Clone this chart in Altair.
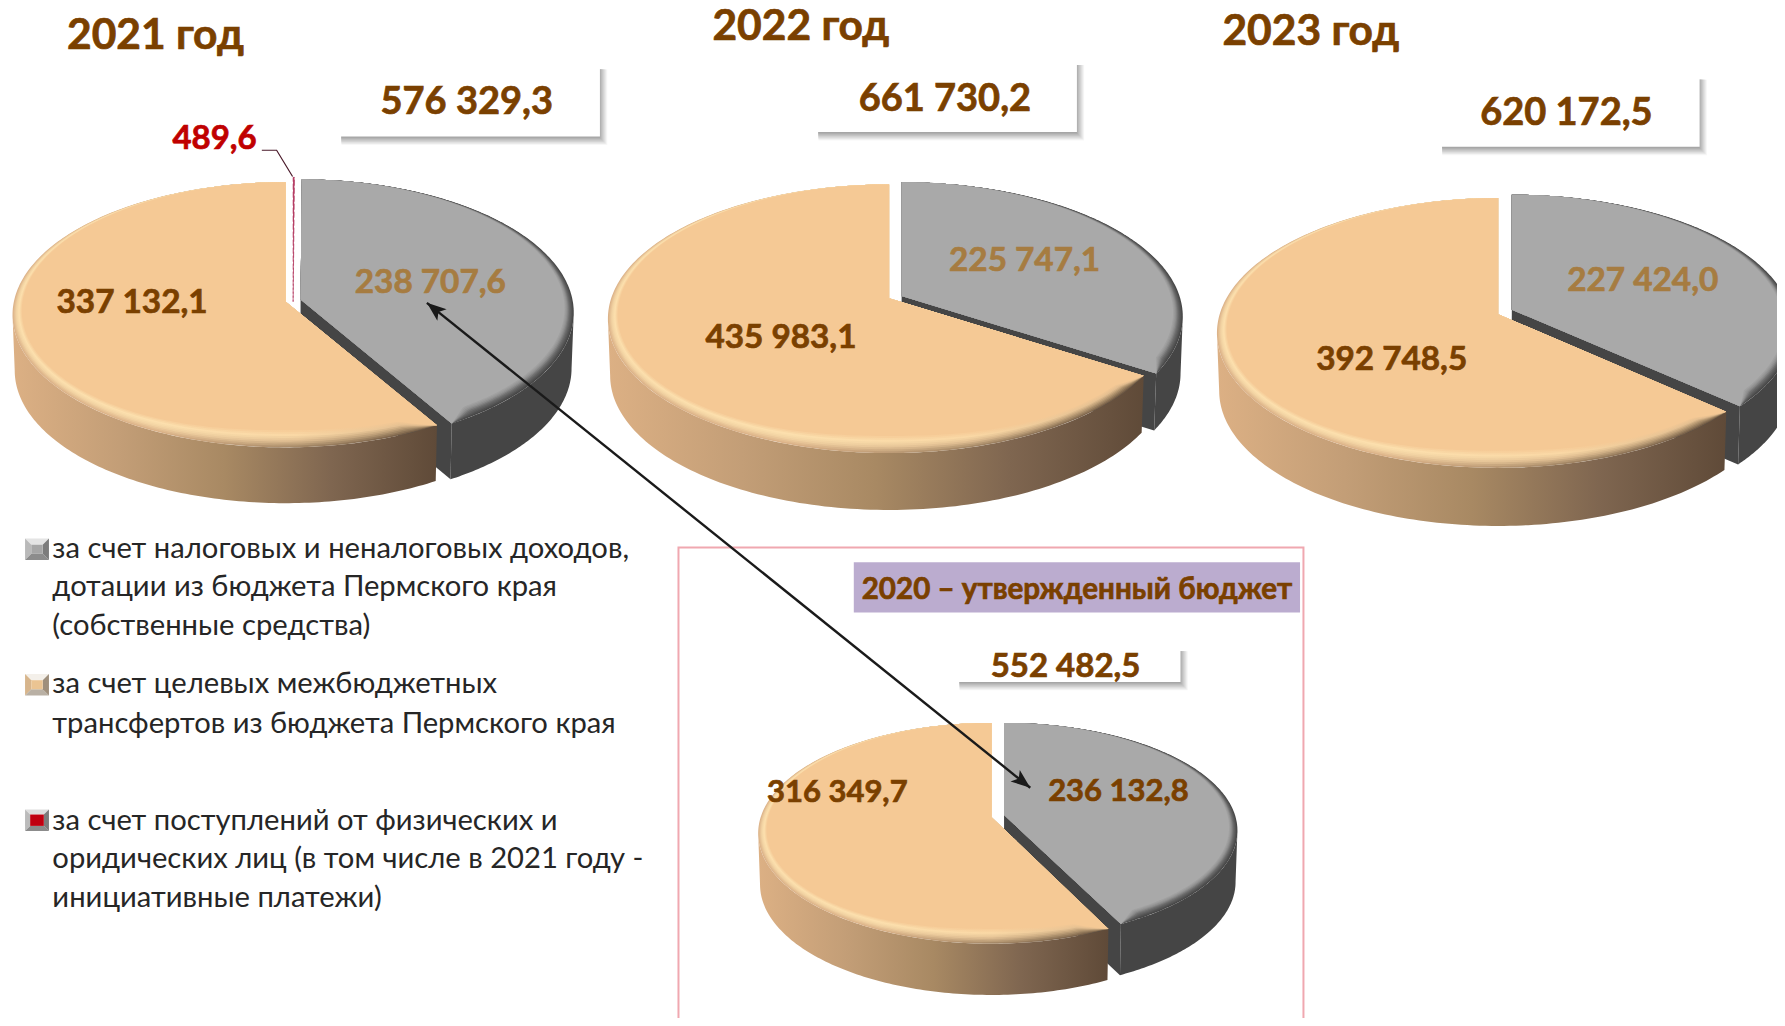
import math
import numpy as np
import altair as alt

# ---------- DATA ----------
years = ["2021", "2022", "2023", "2020"]
own_funds = [238707.6, 225747.1, 227424.0, 236132.8]
targeted_transfers = [337132.1, 435983.1, 392748.5, 316349.7]
citizen_payments = [489.6, 0.0, 0.0, 0.0]
totals = ["576 329,3", "661 730,2", "620 172,5", "552 482,5"]
own_labels = ["238 707,6", "225 747,1", "227 424,0", "236 132,8"]
transfer_labels = ["337 132,1", "435 983,1", "392 748,5", "316 349,7"]
year_titles = ["2021 год", "2022 год", "2023 год"]
banner = "2020 – утвержденный бюджет"
small_label = "489,6"
legend_lines = [
    ["за счет налоговых и неналоговых доходов,", "дотации из бюджета Пермского края", "(собственные средства)"],
    ["за счет целевых межбюджетных", "трансфертов из бюджета Пермского края"],
    ["за счет поступлений от физических и", "оридических лиц (в том числе в 2021 году -", "инициативные платежи)"],
]

# ---------- LAYOUT (measured on the 1568-wide view, scaled by S) ----------
S = 1785 / 1568
W, H = 1769, 1010
BROWN, TAN, RED = "#7A4000", "#A67C41", "#C00000"
DY = 2  # vertical nudge of the bold labels

# apex_o(x,y), far-side x of orange, back y, front y, apex_g(x,y), back y of gray, depth
pies = [
    dict(ox=251, oy=265, left=11, top=160, front=393, gx=264, gy=263, gtop=157.5, depth=49, rim=15),
    dict(ox=781, oy=262, left=534, top=162, front=398, gx=792, gy=260, gtop=160, depth=50, rim=15),
    dict(ox=1316, oy=276, left=1069, top=174, front=411, gx=1328, gy=272, gtop=171, depth=51, rim=15),
    dict(ox=871, oy=718, left=666, top=635, front=829, gx=882, gy=716, gtop=635, depth=45, rim=13),
]


def geometry(p):
    up, down = p["oy"] - p["top"], p["front"] - p["oy"]
    k = (down - up) / (down + up)
    b = up * (1 + k)
    a = (p["ox"] - p["left"]) * math.sqrt(1 - k * k)
    return a, b, k


def screen(p, deg, cx, cy, a, b, k):
    t = np.radians(deg)
    u, v = np.sin(t), np.cos(t)
    w = 1 + k * v
    return cx + a * u / w, cy - b * v / w, v


def poly(xs, ys, **props):
    ring = [[float(x) * S, float(y) * S] for x, y in zip(xs, ys)]
    ring.append(ring[0])
    return {"type": "Feature", "properties": props, "geometry": {"type": "Polygon", "coordinates": [ring]}}


def line(points):
    return {"type": "Feature", "properties": {},
            "geometry": {"type": "LineString", "coordinates": [[x * S, y * S] for x, y in points]}}


def mix(c1, c2, t):
    a = [int(c1[i:i + 2], 16) for i in (1, 3, 5)]
    b = [int(c2[i:i + 2], 16) for i in (1, 3, 5)]
    return "#" + "".join(f"{round(x + (y - x) * t):02x}" for x, y in zip(a, b))


def ramp(stops, t):
    for (t0, c0), (t1, c1) in zip(stops, stops[1:]):
        if t <= t1:
            return mix(c0, c1, (t - t0) / (t1 - t0))
    return stops[-1][1]


def bevel(p, angles, cx, cy, a, b, k, t):
    x, y, v = screen(p, angles, cx, cy, a, b, k)
    ccy = (p["top"] + p["front"]) / 2 + (cy - p["oy"])
    dx, dy = cx - x, ccy - y
    n = np.hypot(dx, dy)
    ends = np.minimum(np.abs(angles - angles[0]), np.abs(angles - angles[-1]))
    d = p["rim"] * t * np.clip(0.5 - 0.5 * v, 0, 1) * np.clip(ends / 6.0, 0, 1)
    return x + dx / n * d, y + dy / n * d


RIM_T = [i / 9 for i in range(10)]
LEFT_RAMP = [(0, "#DCB389"), (0.35, "#F2D3A2"), (0.65, "#FCE0AE"), (1, "#F5C995")]
MID_RAMP = [(0, "#A88B69"), (0.35, "#E2C093"), (0.65, "#FAD9A6"), (1, "#F5C995")]
RIGHT_RAMP = [(0, "#6B5540"), (0.35, "#A68A66"), (0.65, "#DDB78A"), (1, "#F5C995")]
GRAY_RAMP = [(0, "#464646"), (0.4, "#6A6A6A"), (0.7, "#949494"), (1, "#A9A9A9")]
BOTTOM_SCALE = 0.992

gray_feats, side_feats, red_feats = [], [], []
orange_rim = {t: [] for t in RIM_T}

for i, p in enumerate(pies):
    a, b, k = geometry(p)
    tangent = math.degrees(math.acos(-k))  # angle where the outline is widest
    total = own_funds[i] + targeted_transfers[i] + citizen_payments[i]
    o_deg = targeted_transfers[i] / total * 360
    r_deg = citizen_payments[i] / total * 360
    g_deg = own_funds[i] / total * 360
    d = p["depth"]
    up_g = p["gy"] - p["gtop"]
    g_p = dict(p, oy=p["gy"], top=p["gtop"], front=p["gy"] + (p["front"] - p["oy"]))
    ag, bg, kg = a, b * up_g / (p["oy"] - p["top"]), k

    # gray side wall and cut face
    th = np.linspace(tangent, r_deg + g_deg, 80)
    x, y, _ = screen(p, th, p["gx"], p["gy"], ag, bg, kg)
    xb = p["gx"] + (x - p["gx"]) * BOTTOM_SCALE
    gray_feats.append(poly(np.r_[x, xb[::-1]], np.r_[y, (y + d)[::-1]], fill="#454545"))
    gray_feats.append(poly([p["gx"], x[-1], xb[-1], p["gx"]], [p["gy"], y[-1], y[-1] + d, p["gy"] + d], fill="#454545"))
    # gray top with shaded rim
    th = np.linspace(r_deg, r_deg + g_deg, 160)
    for t in RIM_T:
        x, y = bevel(g_p, th, p["gx"], p["gy"], ag, bg, kg, t)
        gray_feats.append(poly(np.r_[p["gx"], x], np.r_[p["gy"], y], fill=ramp(GRAY_RAMP, t)))

    # orange side wall
    th = np.linspace(-o_deg, -tangent, 120)
    x, y, _ = screen(p, th, p["ox"], p["oy"], a, b, k)
    xb = p["ox"] + (x - p["ox"]) * BOTTOM_SCALE
    side_feats.append(poly(np.r_[x, xb[::-1]], np.r_[y, (y + d)[::-1]]))
    # orange top with lit rim
    th = np.linspace(-o_deg, 0, 200)
    for t in RIM_T:
        x, y = bevel(p, th, p["ox"], p["oy"], a, b, k, t)
        orange_rim[t].append(poly(np.r_[p["ox"], x], np.r_[p["oy"], y]))

    # tiny third slice
    if r_deg > 0:
        rx = (p["ox"] + p["gx"]) / 2
        x, y, _ = screen(p, np.array([0, r_deg]), rx, p["oy"], a * 1.0, b * 1.04, k)
        red_feats.append(poly([rx, x[0], x[1]], [p["oy"], y[0], y[1]]))


# ---------- boxes with soft shadows ----------
boxes = [(295, 56, 527, 120), (714, 52, 946, 116), (1262, 65, 1493, 129), (838, 567, 1037, 599)]
box_feats = []
for x0, y0, x1, y1 in boxes:
    for e in range(9):
        grow = (8 - e) * 0.8
        box_feats.append(poly(
            [x0 + 5, x1 + grow, x1 + grow, x0 + 5],
            [y0 + 5, y0 + 5, y1 + 1 + grow, y1 + 1 + grow],
            fill=mix("#F7F7F7", "#A6A6A6", e / 8)))
    box_feats.append(poly([x0, x1, x1, x0], [y0, y0, y1, y1], fill="#FFFFFF"))
box_feats.append(poly([750, 1142, 1142, 750], [494, 494, 538, 538], fill="#BBACCF"))

# ---------- legend swatches ----------
swatches = [
    (22, 473, "#A6A6A6", 5.5, ("#E4E4E4", "#B9B9B9", "#8C8C8C", "#7C7C7C")),
    (22, 592, "#EBC492", 5.5, ("#F4F0EA", "#D7B58C", "#B9B0A4", "#9F8F7C")),
    (22, 711, "#C00010", 4.5, ("#DDDDDD", "#BBBBBB", "#8C8C8C", "#7C7C7C")),
]
for x0, y0, c, ins, (tp, lf, bt, rt) in swatches:
    sw, sh = 21, 19
    x1, y1 = x0 + sw, y0 + sh
    ix0, iy0, ix1, iy1 = x0 + ins, y0 + ins, x1 - ins, y1 - ins
    box_feats.append(poly([x0, x1, ix1, ix0], [y0, y0, iy0, iy0], fill=tp))
    box_feats.append(poly([x0, ix0, ix0, x0], [y0, iy0, iy1, y1], fill=lf))
    box_feats.append(poly([x0, ix0, ix1, x1], [y1, iy1, iy1, y1], fill=bt))
    box_feats.append(poly([x1, ix1, ix1, x1], [y0, iy0, iy1, y1], fill=rt))
    box_feats.append(poly([ix0, ix1, ix1, ix0], [iy0, iy0, iy1, iy1], fill=c))

# ---------- arrow ----------
A0, A1 = (375, 266), (905, 692)
ang = math.atan2(A1[1] - A0[1], A1[0] - A0[0])


def head(tip, direction):
    hl, hw, notch = 17, 6.5, 13
    cs, sn = math.cos(direction), math.sin(direction)
    pts = [(0, 0), (-hl, hw), (-notch, 0), (-hl, -hw)]
    return poly([tip[0] + px * cs - py * sn for px, py in pts],
                [tip[1] + px * sn + py * cs for px, py in pts], fill="#1A1A1A")


head_feats = [head(A0, ang + math.pi), head(A1, ang)]

# ---------- marks ----------
proj = alt.Projection(type="identity", scale=1, translate=[-8, -8])


def flat(features):
    return alt.Chart(alt.Data(values=features)).mark_geoshape().encode(
        fill=alt.Fill("properties.fill:N", scale=None)).project(**proj.to_dict())


def grad(stops):
    n = len(stops) - 1
    return alt.LinearGradient(gradient="linear", x1=0, x2=1, y1=0, y2=0,
                              stops=[alt.GradientStop(color=c, offset=j / n) for j, c in enumerate(stops)])


layers = [flat(gray_feats)]
layers.append(alt.Chart(alt.Data(values=side_feats)).mark_geoshape(
    fill=grad(["#DCB084", "#C39E77", "#A88963", "#7F6650", "#5F4A38"])).project(**proj.to_dict()))
for t in RIM_T:
    layers.append(alt.Chart(alt.Data(values=orange_rim[t])).mark_geoshape(
        fill=grad([ramp(LEFT_RAMP, t), ramp(LEFT_RAMP, t), ramp(MID_RAMP, t), ramp(RIGHT_RAMP, t)])
    ).project(**proj.to_dict()))
layers.append(alt.Chart(alt.Data(values=red_feats)).mark_geoshape(
    fill="#B0305A", stroke="#B0305A", strokeWidth=0.7, strokeDash=[6, 2]).project(**proj.to_dict()))
layers.append(flat(box_feats))
layers.append(alt.Chart(alt.Data(values=[line([(596, 910), (596, 481), (1145, 481), (1145, 910)])])).mark_geoshape(
    filled=False, stroke="#F0A8B0", strokeWidth=2).project(**proj.to_dict()))
layers.append(alt.Chart(alt.Data(values=[line([(230, 132), (243, 132), (257, 155)])])).mark_geoshape(
    filled=False, stroke="#4A1A2A", strokeWidth=1.2).project(**proj.to_dict()))
layers.append(alt.Chart(alt.Data(values=[line([A0, A1])])).mark_geoshape(
    filled=False, stroke="#1A1A1A", strokeWidth=2.4).project(**proj.to_dict()))
layers.append(flat(head_feats))

# ---------- text ----------
bold_rows = []
for txt, x, y in zip(year_titles, [136.5, 703.5, 1151.5], [30, 22, 26]):
    bold_rows.append(dict(t=txt, x=x * S, y=(y + DY) * S, c=BROWN, s=42.5))
for txt, x, y, s in zip(totals, [410, 830, 1376, 936], [88.5, 85.5, 98.5, 584], [38, 38, 38, 33]):
    bold_rows.append(dict(t=txt, x=x * S, y=(y + DY) * S, c=BROWN, s=s))
for txt, x, y, c, s in zip(own_labels, [378, 900, 1443, 982.5], [247, 227, 245, 694], [TAN, TAN, TAN, BROWN], [33.3, 33.3, 33.3, 31]):
    bold_rows.append(dict(t=txt, x=x * S, y=(y + DY) * S, c=c, s=s))
for txt, x, y, s in zip(transfer_labels, [116, 686, 1222.5, 735.5], [264, 295, 314, 695], [33.3, 33.3, 33.3, 31]):
    bold_rows.append(dict(t=txt, x=x * S, y=(y + DY) * S, c=BROWN, s=s))
bold_rows.append(dict(t=small_label, x=188.5 * S, y=(120 + DY) * S, c=RED, s=33))
bold_rows.append(dict(t=banner, x=946 * S, y=(517 + 1) * S, c=BROWN, s=29.6))

legend_rows = []
for group, ys in zip(legend_lines, [[482, 516, 550], [601, 636], [721, 755, 789]]):
    for txt, y in zip(group, ys):
        legend_rows.append(dict(t=txt, x=46 * S, y=y * S))

X = alt.X("x:Q", axis=None, scale=alt.Scale(domain=[8, 8 + W], range=[0, W]))
Y = alt.Y("y:Q", axis=None, scale=alt.Scale(domain=[8, 8 + H], range=[0, H]))

layers.append(alt.Chart(alt.Data(values=bold_rows)).mark_text(
    font="Lato", fontWeight="bold", align="center", baseline="middle", strokeWidth=0.7
).encode(x=X, y=Y, text="t:N", color=alt.Color("c:N", scale=None), stroke=alt.Stroke("c:N", scale=None),
         size=alt.Size("s:Q", scale=None)))
layers.append(alt.Chart(alt.Data(values=legend_rows)).mark_text(
    font="Lato", fontSize=29.2, align="left", baseline="middle", color="#262626"
).encode(x=X, y=Y, text="t:N"))

chart = alt.layer(*layers).properties(
    width=W, height=H, padding=0, autosize=alt.AutoSizeParams(type="none"), background="#FFFFFF"
).configure_view(stroke=None)

chart.save("out.html", embed_options={"renderer": "svg", "actions": False})
